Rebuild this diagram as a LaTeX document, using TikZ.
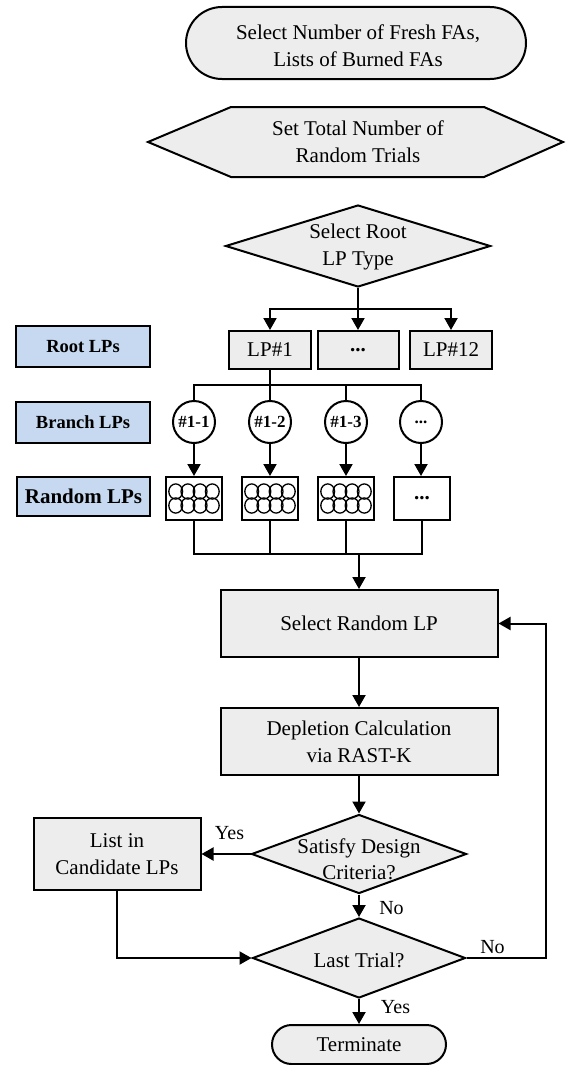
\documentclass[tikz,border=0pt]{standalone}
\usepackage{fontspec}
\setmainfont{Liberation Serif}
\usetikzlibrary{arrows.meta,shapes.geometric,shapes.misc,calc}
\definecolor{boxgray}{HTML}{EDEDED}
\definecolor{labblue}{HTML}{C6D9F1}
\newcommand{\lpgrid}[1]{%
  \foreach \dx in {-18.3,-6.1,6.1,18.3}{%
    \foreach \dy in {-7,7}{%
      \draw[line width=1.3pt] ($(#1)+(\dx,\dy)$) ellipse [x radius=6.9pt, y radius=7.6pt];}}}
\begin{document}
\begin{tikzpicture}[x=1pt,y=-1pt,line width=2pt,
  arr/.style={-{Triangle[length=12pt,width=13pt]}},
  mainfont/.style={font=\fontsize{21}{27}\selectfont},
  graybox/.style={draw,fill=boxgray,rectangle,inner sep=0pt,align=center,mainfont},
  txt/.style={inner sep=0pt,align=center,mainfont},
  term/.style={draw,fill=boxgray,rectangle,inner sep=0pt,align=center,mainfont},
  dia/.style={draw,fill=boxgray,diamond,inner sep=0pt,aspect=2.8},
  labbox/.style={draw,fill=labblue,rectangle,inner sep=0pt,font=\bfseries\fontsize{18.5}{22}\selectfont},
  circ/.style={draw,fill=white,circle,inner sep=0pt,minimum size=42pt,font=\bfseries\fontsize{17}{20}\selectfont},
  rbox/.style={draw,fill=white,rectangle,inner sep=0pt,minimum width=56pt,minimum height=43pt},
  lbl/.style={inner sep=0pt,font=\fontsize{20}{24}\selectfont}]
\useasboundingbox (0,0) rectangle (566,1065);

% start terminal
\node[term,minimum width=340pt,minimum height=72pt,rounded corners=36pt] (start) at (356,43) {};
\node[txt] (startT) at (358,46) {Select Number of Fresh FAs,\\Lists of Burned FAs};

% hexagon
\draw[fill=boxgray] (148,142) -- (231,107) -- (484,107) -- (563,142) -- (484,177) -- (231,177) -- cycle;
\node[txt,minimum width=415pt,minimum height=70pt] (trials) at (358,142) {Set Total Number of\\Random Trials};

% root diamond
\node[dia,minimum width=265pt,minimum height=82pt] (root) at (358,246) {};
\node[txt] (rootT) at (358,247) {Select Root\\LP Type};

% root LPs
\node[graybox,minimum width=82pt,minimum height=38pt] (lp1) at (270,350) {LP\#1};
\node[graybox,minimum width=81pt,minimum height=38pt,font=\bfseries\fontsize{21}{27}\selectfont] (lpd) at (358,350) {...};
\node[graybox,minimum width=82pt,minimum height=38pt] (lp12) at (451,350) {LP\#12};

\coordinate (br) at (358,309);
\draw (root.south) -- (br);
\draw[arr] (br) -| (lp1.north);
\draw[arr] (br) -| (lp12.north);
\draw[arr] (br) -- (lpd.north);

% side labels
\node[labbox,minimum width=134pt,minimum height=41pt] (hRoot) at (83,346.5) {Root LPs};
\node[labbox,minimum width=134pt,minimum height=41pt] (hBranch) at (83,422.5) {Branch LPs};
\node[labbox,minimum width=133pt,minimum height=39pt,font=\bfseries\fontsize{21}{25}\selectfont] (hRandom) at (83.5,496.5) {Random LPs};

% branch circles
\node[circ] (c1) at (194,422) {\#1-1};
\node[circ] (c2) at (270,422) {\#1-2};
\node[circ] (c3) at (346,422) {\#1-3};
\node[circ] (c4) at (421,422) {...};
\coordinate (br2) at (270,385);
\draw (lp1.south) -- (br2);
\draw (c1.north) -- (c1.north |- br2) -- (c4.north |- br2) -- (c4.north);
\draw (c2.north) -- (c2.north |- br2);
\draw (c3.north) -- (c3.north |- br2);

% random boxes
\node[rbox] (r1) at (194,498.5) {};
\node[rbox] (r2) at (270,498.5) {};
\node[rbox] (r3) at (346,498.5) {};
\node[rbox,font=\bfseries\fontsize{21}{27}\selectfont] (r4) at (422,498.5) {...};
\lpgrid{r1}
\lpgrid{r2}
\lpgrid{r3}
\draw[arr] (c1.south) -- (r1.north);
\draw[arr] (c2.south) -- (r2.north);
\draw[arr] (c3.south) -- (r3.north);
\draw[arr] (c4.south) -- (r4.north -| c4.south);

% collector
\coordinate (col) at (359,554);
\draw (r1.south) -- (r1.south |- col) -- (r4.south |- col) -- (r4.south);
\draw (r2.south) -- (r2.south |- col);
\draw (r3.south) -- (r3.south |- col);

% main loop
\node[graybox,minimum width=277pt,minimum height=67pt] (sel) at (359,623.5) {Select Random LP};
\node[graybox,minimum width=277pt,minimum height=67pt] (dep) at (359,741.5) {Depletion Calculation\\via RAST-K};
\node[dia,minimum width=215pt,minimum height=79pt] (sat) at (359,854) {};
\node[txt,font=\fontsize{21}{26}\selectfont] (satT) at (359,859) {Satisfy Design\\Criteria?};
\node[graybox,minimum width=167pt,minimum height=72pt] (list) at (117,854) {List in\\Candidate LPs};
\node[dia,minimum width=213pt,minimum height=80pt] (last) at (359,958) {};
\node[txt] (lastT) at (359,960) {Last Trial?};
\node[term,minimum width=174pt,minimum height=39pt,rounded corners=19.5pt] (term) at (359,1044.5) {Terminate};

\draw[arr] (col) -- (sel.north);
\draw[arr] (sel.south) -- (dep.north);
\draw[arr] (dep.south) -- (sat.north);
\draw[arr] (sat.west) -- (list.east);
\draw[arr] (sat.south) -- (last.north);
\draw[arr] (list.south) |- (last.west);
\coordinate (loop) at (546,958);
\draw[arr] (last.east) -- (loop) |- (sel.east);
\draw[arr] (last.south) -- (term.north);

% labels
\node[lbl] (yes1) at (229.5,833) {Yes};
\node[lbl] (no1) at (391.5,908) {No};
\node[lbl] (no2) at (492.5,947) {No};
\node[lbl] (yes2) at (395.5,1007) {Yes};
\end{tikzpicture}
\end{document}
